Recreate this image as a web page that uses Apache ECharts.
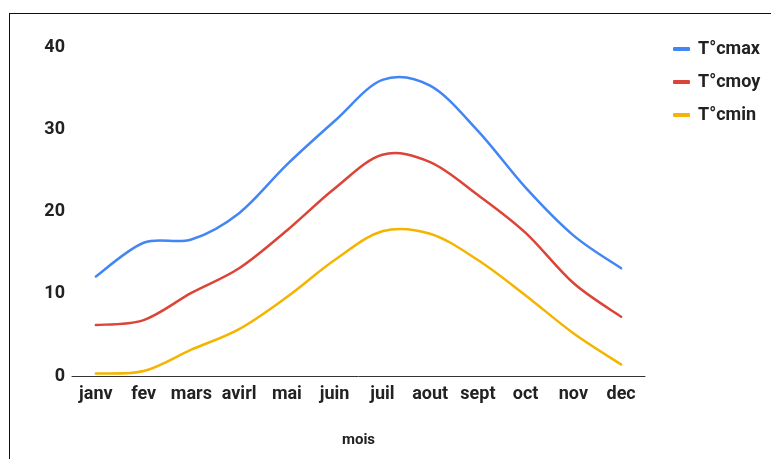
<!DOCTYPE html>
<html>
<head>
<meta charset="utf-8">
<script src="https://cdn.jsdelivr.net/npm/echarts@6/dist/echarts.min.js"></script>
<style>
  html, body { margin: 0; padding: 0; background: #fff; }
  #frame { position: absolute; left: 9px; top: 13px; width: 800px; height: 460px;
           border-left: 1.5px solid #111; border-top: 1.5px solid #111; }
  #chart { position: absolute; left: 0; top: 0; width: 771px; height: 459px; }
</style>
</head>
<body>
<div id="frame"></div>
<div id="chart"></div>
<script>
// Mois de l'année
const months = ['janv', 'fev', 'mars', 'avirl', 'mai', 'juin', 'juil', 'aout', 'sept', 'oct', 'nov', 'dec'];
// Températures mensuelles (°C)
const tMax = [12.1, 16.2, 16.6, 19.8, 25.7, 31.0, 36.0, 35.3, 29.8, 22.9, 17.1, 13.1];
const tMoy = [6.2, 6.8, 10.1, 13.1, 17.7, 22.8, 26.9, 26.0, 22.0, 17.4, 11.3, 7.2];
const tMin = [0.3, 0.6, 3.2, 5.7, 9.6, 14.1, 17.6, 17.3, 14.1, 9.8, 5.2, 1.4];
const seriesNames = ['T°cmax', 'T°cmoy', 'T°cmin'];
const colors = ['#4285F4', '#DB4437', '#F4B400'];

const chart = echarts.init(document.getElementById('chart'), null, { renderer: 'canvas' });
const font = 'Roboto, "Liberation Sans", sans-serif';

// Catmull-Rom curve through the points, converted to cubic Bézier segments
function curvePath(pts) {
  let d = 'M' + pts[0][0] + ' ' + pts[0][1];
  for (let i = 0; i < pts.length - 1; i++) {
    const p0 = pts[i - 1] || pts[i];
    const p1 = pts[i];
    const p2 = pts[i + 1];
    const p3 = pts[i + 2] || p2;
    const c1x = p1[0] + (p2[0] - p0[0]) / 6;
    const c1y = p1[1] + (p2[1] - p0[1]) / 6;
    const c2x = p2[0] - (p3[0] - p1[0]) / 6;
    const c2y = p2[1] - (p3[1] - p1[1]) / 6;
    d += ' C' + c1x + ' ' + c1y + ' ' + c2x + ' ' + c2y + ' ' + p2[0] + ' ' + p2[1];
  }
  return d;
}

function curveSeries(name, values, color) {
  return {
    name, type: 'custom', coordinateSystem: 'cartesian2d',
    data: values.map((v, i) => [i, v]),
    encode: { x: 0, y: 1 },
    itemStyle: { color },
    silent: true,
    renderItem(params, api) {
      if (params.dataIndex !== 0) return null;
      const pts = values.map((v, i) => api.coord([i, v]));
      return {
        type: 'path',
        shape: { pathData: curvePath(pts) },
        style: { fill: null, stroke: color, lineWidth: 2.5, lineCap: 'round', lineJoin: 'round' }
      };
    }
  };
}

chart.setOption({
  animation: false,
  backgroundColor: 'transparent',
  color: colors,
  grid: { left: 72, right: 126, top: 47, bottom: 83, containLabel: false },
  legend: {
    orient: 'vertical', left: 668, top: 34,
    icon: 'roundRect', itemWidth: 17, itemHeight: 4, itemGap: 13,
    textStyle: { fontFamily: font, fontWeight: 'bold', fontSize: 18, lineHeight: 20,
                 color: '#222', padding: [0, 0, 0, 3] },
    data: seriesNames.map((n, i) => ({ name: n, itemStyle: { color: colors[i] } }))
  },
  xAxis: {
    type: 'category', data: months, boundaryGap: true,
    name: 'mois', nameLocation: 'middle', nameGap: 57,
    nameTextStyle: { fontFamily: font, fontWeight: 'bold', fontSize: 15, color: '#222' },
    axisLine: { lineStyle: { color: '#333', width: 1 } },
    axisTick: { show: false },
    axisLabel: { fontFamily: font, fontWeight: 'bold', fontSize: 18, color: '#222', margin: 9, interval: 0 }
  },
  yAxis: {
    type: 'value', min: 0, max: 40, interval: 10,
    axisLine: { show: false }, axisTick: { show: false },
    splitLine: { show: false },
    axisLabel: { fontFamily: font, fontWeight: 'bold', fontSize: 18, color: '#222', margin: 7 }
  },
  series: [
    curveSeries(seriesNames[0], tMax, colors[0]),
    curveSeries(seriesNames[1], tMoy, colors[1]),
    curveSeries(seriesNames[2], tMin, colors[2])
  ]
});
</script>
</body>
</html>
